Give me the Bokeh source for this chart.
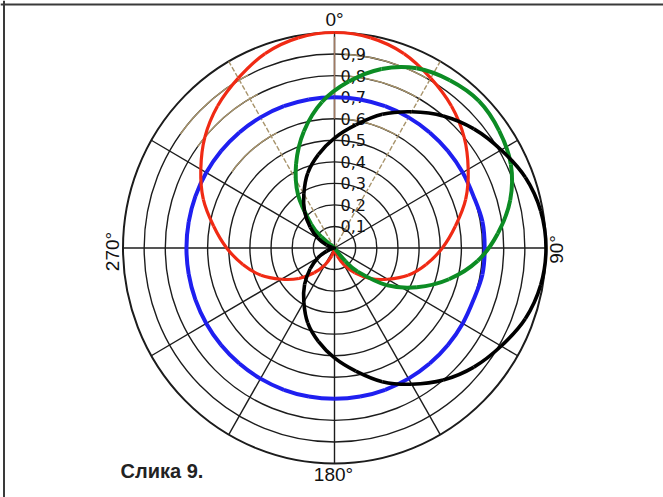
import numpy as np
from bokeh.plotting import figure
from bokeh.models import Range1d, Span
from bokeh.core.properties import value
from bokeh.embed import file_html
from bokeh.resources import INLINE

# ---- data (compass angles in degrees, radius 0..1) ----
angles = list(range(0, 361, 10))
red_r = [1.00, 0.99, 0.96, 0.91, 0.86, 0.80, 0.73, 0.66, 0.58, 0.51, 0.44, 0.37, 0.29,
         0.22, 0.15, 0.09, 0.04, 0.01, 0.00, 0.01, 0.04, 0.09, 0.15, 0.22, 0.29, 0.37,
         0.44, 0.51, 0.58, 0.66, 0.73, 0.80, 0.86, 0.91, 0.96, 0.99, 1.00]
black_r = [0.51, 0.58, 0.66, 0.73, 0.80, 0.86, 0.91, 0.96, 0.99, 1.00, 0.99, 0.96, 0.91,
           0.86, 0.80, 0.73, 0.66, 0.58, 0.51, 0.44, 0.37, 0.29, 0.22, 0.15, 0.09, 0.04,
           0.01, 0.00, 0.01, 0.04, 0.09, 0.15, 0.22, 0.29, 0.37, 0.44, 0.51]
blue_r = [0.70, 0.70, 0.70, 0.70, 0.70, 0.70, 0.70, 0.70, 0.71, 0.71, 0.71, 0.70, 0.70,
          0.70, 0.70, 0.70, 0.70, 0.70, 0.70, 0.70, 0.70, 0.70, 0.70, 0.70, 0.70, 0.70,
          0.70, 0.70, 0.70, 0.70, 0.70, 0.70, 0.70, 0.70, 0.70, 0.70, 0.70]
green_theta = [-56, -50, -45, -35, -25, -15, -5, 5, 15, 25, 35, 45, 55, 65, 75, 85, 95,
               105, 115, 125, 135, 140, 146]
green_r = [0.00, 0.08, 0.155, 0.30, 0.43, 0.56, 0.68, 0.775, 0.86, 0.92, 0.95, 0.965,
           0.95, 0.92, 0.86, 0.775, 0.68, 0.56, 0.43, 0.30, 0.155, 0.08, 0.00]

ring_values = [0.1, 0.2, 0.3, 0.4, 0.5, 0.6, 0.7, 0.8, 0.9, 1.0]
ring_labels = ["0,1", "0,2", "0,3", "0,4", "0,5", "0,6", "0,7", "0,8", "0,9"]
spoke_angles = [0, 30, 60, 90, 120, 150, 180, 210, 240, 270, 300, 330]
dir_labels = ["0°", "90°", "180°", "270°"]
caption = "Слика 9."


def to_xy(theta_deg, r):
    t = np.radians(np.asarray(theta_deg, dtype=float))
    r = np.asarray(r, dtype=float)
    return r * np.sin(t), r * np.cos(t)


def smooth_bezier(p, x, y, closed, **kw):
    """Draw a smooth (Catmull-Rom style) curve through the given points."""
    x = np.asarray(x, float); y = np.asarray(y, float)
    n = len(x)
    if closed:
        X, Y = x[:-1], y[:-1]
        m = len(X)
        prv = lambda i: (i - 1) % m
        nxt = lambda i: (i + 1) % m
        segs = range(m)
    else:
        X, Y = x, y
        m = n
        prv = lambda i: max(i - 1, 0)
        nxt = lambda i: min(i + 1, m - 1)
        segs = range(m - 1)
    x0, y0, x1, y1, cx0, cy0, cx1, cy1 = [], [], [], [], [], [], [], []
    for i in segs:
        j = nxt(i)
        a, d = prv(i), nxt(j)
        x0.append(X[i]); y0.append(Y[i]); x1.append(X[j]); y1.append(Y[j])
        cx0.append(X[i] + (X[j] - X[a]) / 6.0); cy0.append(Y[i] + (Y[j] - Y[a]) / 6.0)
        cx1.append(X[j] - (X[d] - X[i]) / 6.0); cy1.append(Y[j] - (Y[d] - Y[i]) / 6.0)
    p.bezier(x0=x0, y0=y0, x1=x1, y1=y1, cx0=cx0, cy0=cy0, cx1=cx1, cy1=cy1, **kw)


W, H = 663, 497
ox, oy = 334.0, 247.5       # origin in page pixels
sx, sy = 211.5, 215.5       # pixels per unit


def px(xp):
    return (xp - ox) / sx


def py(yp):
    return (oy - yp) / sy


p = figure(width=W, height=H, output_backend="svg", toolbar_location=None,
           x_range=Range1d(-ox / sx, (W - ox) / sx),
           y_range=Range1d(-(H - oy) / sy, oy / sy),
           x_axis_type=None, y_axis_type=None, min_border=0)
p.grid.visible = False
p.outline_line_color = None
p.background_fill_color = "white"
p.border_fill_color = "white"

GRID = "#1c1c1c"
TAN = "#a8946c"

# rings
for rv in ring_values:
    p.ellipse(x=0, y=0, width=2 * rv, height=2 * rv, fill_color=None,
              line_color=GRID, line_width=2.0 if rv == 1.0 else 1.4)

# faded (tan) pieces of rings, as in the scan
tan_xs, tan_ys = [], []
for rv in [0.6, 0.7, 0.8, 0.9]:
    for a0, a1 in [(3, 29), (306, 333)]:
        tt = np.linspace(a0, a1, 30)
        xx, yy = to_xy(tt, np.full_like(tt, rv))
        tan_xs.append(list(xx)); tan_ys.append(list(yy))
p.multi_line(tan_xs, tan_ys, line_color=TAN, line_width=1.4)

# spokes
sp_xs, sp_ys, tsp_xs, tsp_ys = [], [], [], []
for a in spoke_angles:
    ex, ey = to_xy([a], [1.0])
    if a in (30, 330):
        tsp_xs.append([0, ex[0]]); tsp_ys.append([0, ey[0]])
    else:
        sp_xs.append([0, ex[0]]); sp_ys.append([0, ey[0]])
p.multi_line(sp_xs, sp_ys, line_color=GRID, line_width=1.4)
p.multi_line(tsp_xs, tsp_ys, line_color=TAN, line_width=1.4, line_dash="5 2")
# faded upper part of the 0° axis
p.line([0, 0], [0.6, 0.98], line_color="#a07a62", line_width=1.5)

# ring value labels along the 0° axis
p.text(x=[6 / sx] * len(ring_labels), y=ring_values[:9], text=ring_labels,
       text_font=value("DejaVu Sans"), text_font_size="16px", text_color="#111",
       text_align="left", text_baseline="middle")

# direction labels
p.text(x=[px(334), px(333)], y=[py(19), py(474)], text=[dir_labels[0], dir_labels[2]],
       text_font=value("Liberation Sans"), text_font_size="19px", text_color="#111",
       text_align="center", text_baseline="middle")
p.text(x=[px(556), px(111.5)], y=[py(249), py(251)],
       text=[dir_labels[1], dir_labels[3]], angle=np.pi / 2,
       text_font=value("Liberation Sans"), text_font_size="19px", text_color="#111",
       text_align="center", text_baseline="middle")

# caption
p.text(x=[px(120)], y=[py(470)], text=[caption],
       text_font=value("Liberation Sans"), text_font_size="20px", text_font_style="bold",
       text_color="#222", text_align="left", text_baseline="middle")

# polar patterns
bx, by = to_xy(angles, blue_r)
smooth_bezier(p, bx, by, True, line_color="#1f1ff0", line_width=4)
rx, ry = to_xy(angles, red_r)
smooth_bezier(p, rx, ry, True, line_color="#f02a14", line_width=3.2)
gx, gy = to_xy(green_theta, green_r)
smooth_bezier(p, gx, gy, False, line_color="#0c8c24", line_width=4)
kx, ky = to_xy(angles, black_r)
smooth_bezier(p, kx, ky, True, line_color="#000000", line_width=3.6)

# frame lines (top and left) of the figure box
p.add_layout(Span(location=py(4), dimension="width", line_color="#3a3a3a", line_width=2))
p.add_layout(Span(location=px(3.5), dimension="height", line_color="#3a3a3a", line_width=2))

open("out.html", "w").write(file_html(p, INLINE))
